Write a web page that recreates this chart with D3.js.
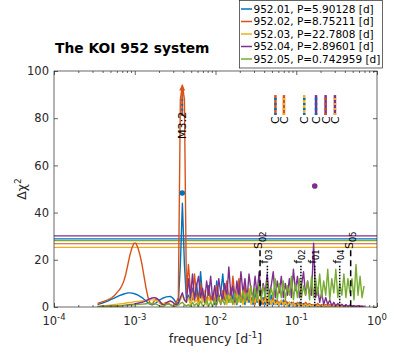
<!DOCTYPE html>
<html><head><meta charset="utf-8">
<script src="https://cdn.jsdelivr.net/npm/d3@7"></script>
<style>body{margin:0;background:#fff} text{font-family:"DejaVu Sans",sans-serif}</style>
</head><body><svg id="c" width="416" height="353"></svg>
<script>
// ---------------- data ----------------
const names = ["952.01","952.02","952.03","952.04","952.05"];
const periods = ["5.90128","8.75211","22.7808","2.89601","0.742959"];
const colors = ["#0072BD","#D95319","#EDB120","#7E2F8E","#77AC30"];
const logfStart = -3.46, logfStep = 0.025;   // frequency grid (log10 of d^-1)
const blue = [1.0,1.3,1.6,1.9,2.2,2.5,2.9,3.3,3.7,4.1,
4.5,4.9,5.2,5.5,5.8,6.0,6.0,5.9,5.7,5.4,
5.0,4.5,4.0,3.3,2.5,1.8,1.2,0.9,1.2,1.8,
2.5,3.1,3.6,4.0,4.3,4.4,4.5,4.0,3.0,1.5,
2.0,18,44,18,3,5,2,8,3,10,
2,15,4,6,2,9,3,5,1,11,
3,6,14,3,5,2,8,3,6,1,
10,2,5,1,7,2,4,1,6,2,
3,1,4,1,3,1,5,1,3,1,
2,1,3,1,2,0.5,2,1,1.5,0.5,
2,0.5,1.5,0.5,1,0.3,1,0.5,1,0.3,
0.8,0.3,0.7,0.2,0.6,0.3,0.5,0.2,0.5,0.2,
0.4,0.2,0.4,0.1,0.3,0.1,0.3,0.1,0.2,0.1,
0.2,0.1,0.1];
const orange = [1.5,1.8,2.1,2.4,2.7,3.0,3.4,3.9,4.6,5.5,
6.5,7.5,9,11,14,18,22,25,27,27,
25,22,18,13,8,4,1.5,1,2.5,3.5,
3,1.5,1,1.5,2,1.5,1,0.5,1,2,
4,88,94,88,6,18,7,3,14,5,
2,10,3,6,1,8,3,5,2,9,
4,1,7,3,11,4,2,13,5,3,
12,4,2,9,3,7,2,5,1,6,
2,4,1,5,2,3,1,4,1,3,
1,2.5,1,3,1,2,1,2,0.5,2,
1,1.5,0.5,2,1,1.5,0.5,1,0.5,1.5,
0.5,1,0.5,1,0.3,1,0.5,0.8,0.3,1,
0.5,0.8,0.3,0.6,0.3,0.5,0.2,0.5,0.2,0.4,
0.2,0.3,0.1];
const yellow = [0.3,0.4,0.5,0.5,0.6,0.7,0.8,0.9,1.0,1.1,
1.2,1.3,1.4,1.5,1.7,1.8,1.9,2.0,2.2,2.3,
2.4,2.5,2.6,2.7,2.8,2.9,3.0,3.0,2.9,2.7,
2.4,2.0,1.6,1.3,1.5,2.0,2.4,2.2,1.5,0.8,
1.5,3,5,3,2,4,1,6,2,3,
1,5,2,7,1,4,2,3,6,1,
4,2,3,7,1,5,2,3,1,6,
2,4,1,5,2,8,1,3,2,5,
1,4,2,3,1,4,1,3,1,2,
1,3,1,2,0.5,2,1,1.5,0.5,1.5,
0.5,1,0.5,1.2,0.4,1,0.3,0.8,0.3,0.7,
0.3,0.6,0.2,0.6,0.2,0.5,0.2,0.4,0.2,0.4,
0.1,0.3,0.1,0.3,0.1,0.3,0.1,0.2,0.1,0.2,
0.1,0.1,0.1];
const purple = [0.1,0.1,0.2,0.2,0.2,0.3,0.3,0.3,0.4,0.4,
0.5,0.5,0.6,0.7,0.8,0.9,1.0,1.1,1.2,1.4,
1.6,1.8,2.0,2.3,2.7,3.1,3.5,3.8,4.0,3.8,
3.2,2.2,1.2,0.8,1.5,2.3,2.6,2.2,1.4,0.8,
1.5,4,6,3,2,12,4,14,3,9,
13,4,8,2,11,5,13,3,9,2,
12,6,3,10,4,17,5,9,2,11,
4,15,6,12,3,14,7,4,13,5,
15,4,10,6,14,5,9,15,4,11,
6,13,4,10,5,12,4,16,7,13,
4,9,15,5,11,6,5,27,4,8,
2,6,1,4,1,3,0.5,2,0.5,1.5,
0.5,1.2,0.3,1,0.3,0.8,0.2,0.6,0.2,0.5,
0.2,0.3,0.1];
const green = [0.1,0.1,0.1,0.2,0.2,0.2,0.3,0.3,0.3,0.4,
0.4,0.5,0.5,0.6,0.6,0.7,0.8,0.8,0.9,1.0,
1.0,1.1,1.2,1.3,1.4,1.5,1.5,1.5,1.4,1.2,
0.8,0.4,0.2,0.5,1.0,1.2,1.0,0.6,0.3,0.5,
0.8,1.5,2,1,0.5,1,0.3,2,0.5,1.5,
0.3,2.5,0.5,1,3,0.5,2,0.3,3,1,
4,1.5,3,1,5,2,4,1,6,1.5,
5,2,7,2,6,3,9,2,8,3,
10,3,9,4,11,3,8,4,12,3,
10,4,11,3,9,5,13,3,10,4,
12,4,9,5,11,3,13,4,12,5,
14,4,11,5,16,3,12,6,16,4,
10,5,14,4,12,6,12,3,18,5,
13,4,9];
const thresholds = [28.9, 26.8, 25.3, 30.1, 28.1];
const sLines = [{sub:"02", f:0.0356}, {sub:"05", f:0.472}];
const fLines = [{sub:"01", p:5.90128}, {sub:"02", p:8.75211}, {sub:"03", p:22.7808}, {sub:"04", p:2.89601}];
const cPairs = [[1,0],[1,2],[2,0],[3,0],[3,1],[3,2]];
const m32 = {f:0.00387, lo:81, hi:93};
const peakDots = [{s:0, f:0.00387, v:48.3}, {s:3, f:1/5.90128, v:51.3}];
const yTicks = [0,20,40,60,80,100];
const xMajors = [1e-4,1e-3,1e-2,1e-1,1];

// ---------------- drawing ----------------
const svg = d3.select("#c");
const X0=54, X1=377, Y0=307, Y1=71;
const x = d3.scaleLog().domain([1e-4,1]).range([X0,X1]);
const y = d3.scaleLinear().domain([0,100]).range([Y0,Y1]);
const freq = blue.map((_,i)=>Math.pow(10, logfStart + i*logfStep));
const series = [blue, orange, yellow, purple, green];
const axCol = "#262626";

svg.append("clipPath").attr("id","clip").append("rect")
  .attr("x",X0).attr("y",Y1).attr("width",X1-X0).attr("height",Y0-Y1);

svg.append("text").attr("x",55).attr("y",52.5).attr("font-weight","bold")
  .attr("font-size",13.8).attr("fill","#000").text("The KOI 952 system");

const plot = svg.append("g").attr("clip-path","url(#clip)");
thresholds.forEach((t,i)=>{
  plot.append("line").attr("x1",X0).attr("x2",X1).attr("y1",y(t)).attr("y2",y(t))
    .attr("stroke",colors[i]).attr("stroke-width",1.2);
});
const line = d3.line().x((d,i)=>x(freq[i])).y(d=>y(d));
series.forEach((s,i)=>{
  plot.append("path").attr("d",line(s)).attr("fill","none")
    .attr("stroke",colors[i]).attr("stroke-width",1.4).attr("stroke-linejoin","round");
});

function rotLabel(px, py, main, sub, size){
  const t = svg.append("text").attr("transform",`translate(${px},${py}) rotate(-90)`)
    .attr("font-size",size).attr("fill","#000");
  t.append("tspan").text(main);
  if (sub) t.append("tspan").attr("dy",3.5).attr("font-size",size*0.75).text(sub);
  return t;
}

sLines.forEach(s=>{
  const px = x(s.f);
  svg.append("line").attr("x1",px).attr("x2",px).attr("y1",y(24)).attr("y2",Y0)
    .attr("stroke","#000").attr("stroke-width",1.5).attr("stroke-dasharray","6,4");
  rotLabel(px+2, y(24.6), "S", s.sub, 11);
});
fLines.forEach(s=>{
  const px = x(1/s.p);
  svg.append("line").attr("x1",px).attr("x2",px).attr("y1",y(17.5)).attr("y2",Y0)
    .attr("stroke","#000").attr("stroke-width",1.5).attr("stroke-dasharray","1.5,1.5");
  rotLabel(px+1, y(18.3), "f", s.sub, 11);
});

cPairs.forEach(([a,b])=>{
  const f = Math.abs(1/+periods[a] - 1/+periods[b]);
  const px = x(f);
  svg.append("line").attr("x1",px).attr("x2",px).attr("y1",y(81.4)).attr("y2",y(89.8))
    .attr("stroke",colors[a]).attr("stroke-width",2.5);
  svg.append("line").attr("x1",px).attr("x2",px).attr("y1",y(81.4)).attr("y2",y(89.8))
    .attr("stroke",colors[b]).attr("stroke-width",2.5).attr("stroke-dasharray","2,3");
  rotLabel(px+4, y(77.5), "C", null, 11);
});

{
  const px = x(m32.f);
  svg.append("line").attr("x1",px).attr("x2",px).attr("y1",y(m32.lo)).attr("y2",y(m32.hi))
    .attr("stroke",colors[1]).attr("stroke-width",2);
  svg.append("line").attr("x1",px).attr("x2",px).attr("y1",y(m32.lo)).attr("y2",y(88))
    .attr("stroke",colors[0]).attr("stroke-width",2).attr("stroke-dasharray","2,3");
  const ty = y(m32.hi);
  svg.append("path").attr("d",`M${px},${ty-3} L${px+3},${ty+3} L${px-3},${ty+3} Z`).attr("fill",colors[1]);
  rotLabel(px+4, y(71.2), "M3:2", null, 11);
}
peakDots.forEach(p=>{
  svg.append("circle").attr("cx",x(p.f)).attr("cy",y(p.v)).attr("r",2.8).attr("fill",colors[p.s]);
});

function styleAx(g){ g.select(".domain").remove(); g.selectAll("line").attr("stroke",axCol).attr("stroke-width",0.7); g.selectAll("text").remove(); }
const xMinors = [];
for (let k=-4;k<0;k++) for (let m=2;m<10;m++) xMinors.push(m*Math.pow(10,k));
svg.append("g").attr("transform",`translate(0,${Y0})`).call(d3.axisBottom(x).tickValues(xMajors).tickSize(-4)).call(styleAx);
svg.append("g").attr("transform",`translate(0,${Y0})`).call(d3.axisBottom(x).tickValues(xMinors).tickSize(-2)).call(styleAx);
svg.append("g").attr("transform",`translate(0,${Y1})`).call(d3.axisTop(x).tickValues(xMajors).tickSize(-4)).call(styleAx);
svg.append("g").attr("transform",`translate(0,${Y1})`).call(d3.axisTop(x).tickValues(xMinors).tickSize(-2)).call(styleAx);
svg.append("g").attr("transform",`translate(${X0},0)`).call(d3.axisLeft(y).tickValues(yTicks).tickSize(-4)).call(styleAx);
svg.append("g").attr("transform",`translate(${X1},0)`).call(d3.axisRight(y).tickValues(yTicks).tickSize(-4)).call(styleAx);
svg.append("rect").attr("x",X0).attr("y",Y1).attr("width",X1-X0).attr("height",Y0-Y1)
  .attr("fill","none").attr("stroke",axCol).attr("stroke-width",0.7);

xMajors.forEach(d=>{
  const t = svg.append("text").attr("x",x(d)).attr("y",325).attr("text-anchor","middle")
    .attr("font-size",11.5).attr("fill",axCol);
  t.append("tspan").text("10");
  t.append("tspan").attr("dy",-5).attr("font-size",8.5).text(String(Math.round(Math.log10(d))));
});
yTicks.forEach(d=>{
  svg.append("text").attr("x",49).attr("y",y(d)).attr("dy","0.36em").attr("text-anchor","end")
    .attr("font-size",11.5).attr("fill",axCol).text(d);
});
{
  const t = svg.append("text").attr("x",(X0+X1)/2).attr("y",343).attr("text-anchor","middle")
    .attr("font-size",12.5).attr("fill",axCol);
  t.append("tspan").text("frequency [d");
  t.append("tspan").attr("dy",-5).attr("font-size",9).text("-1");
  t.append("tspan").attr("dy",5).text("]");
  const u = svg.append("text").attr("transform",`translate(26,${(Y0+Y1)/2}) rotate(-90)`)
    .attr("text-anchor","middle").attr("font-size",12.5).attr("fill",axCol);
  u.append("tspan").text("Δχ");
  u.append("tspan").attr("dy",-5).attr("font-size",9).text("2");
}

const lg = svg.append("g");
lg.append("rect").attr("x",239.5).attr("y",0.5).attr("width",143).attr("height",67.5)
  .attr("fill","#fff").attr("stroke",axCol).attr("stroke-width",0.7);
names.forEach((n,i)=>{
  const cy = 9 + i*12.5;
  lg.append("line").attr("x1",241).attr("x2",252).attr("y1",cy).attr("y2",cy)
    .attr("stroke",colors[i]).attr("stroke-width",1.5);
  lg.append("text").attr("x",253.5).attr("y",cy).attr("dy","0.36em").attr("font-size",10.5)
    .attr("fill","#000").text(`${n}, P=${periods[i]} [d]`);
});
</script></body></html>
